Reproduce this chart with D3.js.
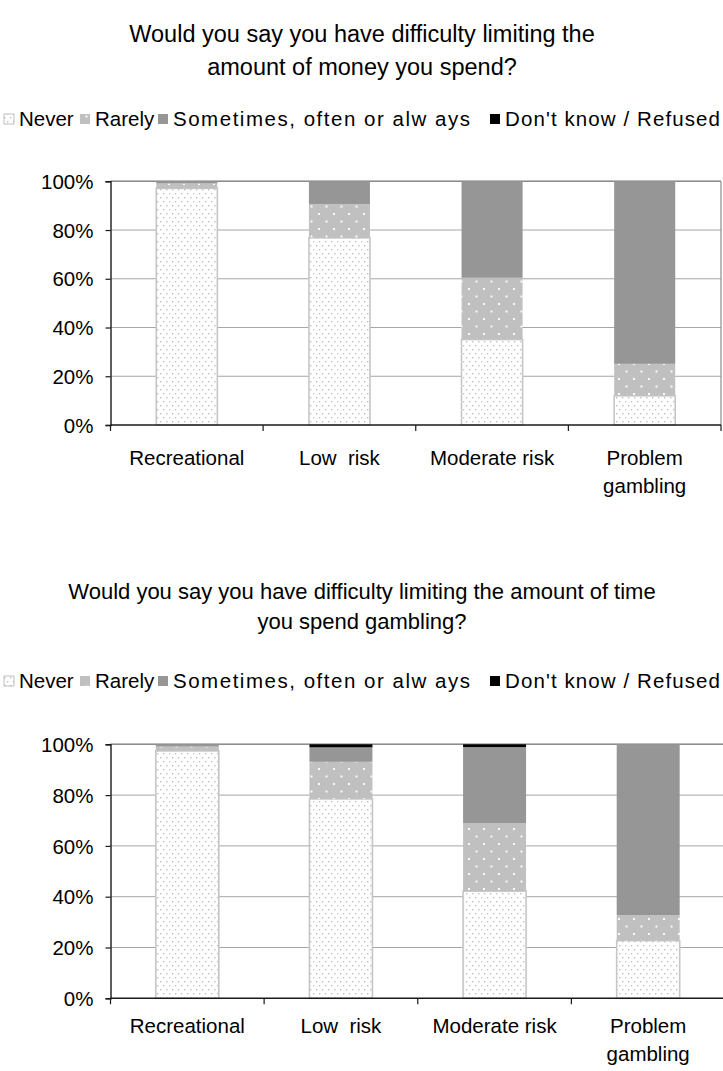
<!DOCTYPE html>
<html>
<head>
<meta charset="utf-8">
<script src="https://cdn.jsdelivr.net/npm/d3@7"></script>
<style>
  body { margin: 0; background: #fff; }
  svg text { font-family: "Liberation Sans", Arial, sans-serif; fill: #000; white-space: pre; }
</style>
</head>
<body>
<svg id="chart" width="723" height="1071"></svg>
<script>
// Gambler groups along the x axis
const categories = ["Recreational", "Low  risk", "Moderate risk", "Problem gambling"];
const seriesNames = ["Never", "Rarely", "Sometimes, often or alw ays", "Don't know / Refused"];
const yTicks = [0, 20, 40, 60, 80, 100];

// Difficulty limiting the amount of money spent (% of each group)
const moneyNever     = [97.1, 76.8, 35.1, 12.0];
const moneyRarely    = [2.0, 13.9, 25.3, 13.1];
const moneySometimes = [0.9, 9.3, 39.6, 74.9];
const moneyDontKnow  = [0, 0, 0, 0];

// Difficulty limiting the amount of time spent gambling (% of each group)
const timeNever     = [97.4, 78.5, 42.2, 22.7];
const timeRarely    = [1.7, 14.6, 26.8, 10.1];
const timeSometimes = [0.9, 5.7, 29.9, 67.2];
const timeDontKnow  = [0, 1.2, 1.1, 0];

const svg = d3.select("#chart");
const defs = svg.append("defs");

// Dotted fills
const pNever = defs.append("pattern").attr("id", "pNever")
  .attr("patternUnits", "userSpaceOnUse").attr("width", 6).attr("height", 8);
pNever.append("rect").attr("width", 6).attr("height", 8).attr("fill", "#fff");
pNever.append("rect").attr("x", 1).attr("y", 1).attr("width", 1.4).attr("height", 1.4).attr("fill", "#c0c0c0");
pNever.append("rect").attr("x", 4).attr("y", 5).attr("width", 1.4).attr("height", 1.4).attr("fill", "#c0c0c0");

const pRarely = defs.append("pattern").attr("id", "pRarely")
  .attr("patternUnits", "userSpaceOnUse").attr("width", 15).attr("height", 15);
pRarely.append("rect").attr("width", 15).attr("height", 15).attr("fill", "#c0c0c0");
pRarely.append("rect").attr("x", 3).attr("y", 3).attr("width", 2).attr("height", 2).attr("fill", "#fafafa");
pRarely.append("rect").attr("x", 10.5).attr("y", 10.5).attr("width", 2).attr("height", 2).attr("fill", "#fafafa");

const fills = ["url(#pNever)", "url(#pRarely)", "#969696", "#000000"];

// Legend layout: marker x positions and text widths (null = natural width)
const legendMarkX = [4, 80, 158, 490];
const legendTextW = [null, null, 297, 215];

function drawChart(cfg) {
  const g = svg.append("g");

  // Title
  g.append("text")
    .attr("text-anchor", "middle")
    .attr("font-size", cfg.titleSize)
    .selectAll("tspan").data(cfg.title).join("tspan")
    .attr("x", 362).attr("y", (d, i) => cfg.titleY + i * cfg.titleLead)
    .text(d => d);

  // Legend
  const leg = g.append("g");
  seriesNames.forEach((name, i) => {
    const lx = legendMarkX[i];
    leg.append("rect")
      .attr("x", lx).attr("y", cfg.legendY - 12).attr("width", 10).attr("height", 10)
      .attr("fill", fills[i])
      .attr("stroke", i === 0 ? "#b0b0b0" : "none").attr("stroke-width", 0.8);
    const t = leg.append("text")
      .attr("x", lx + 15).attr("y", cfg.legendY)
      .attr("font-size", 20.5)
      .text(name);
    if (legendTextW[i]) t.attr("textLength", legendTextW[i]).attr("lengthAdjust", "spacing");
  });

  const x = d3.scaleBand().domain(categories)
    .range([cfg.left, cfg.right]).paddingInner(cfg.pad).paddingOuter(cfg.pad / 2);
  const y = d3.scaleLinear().domain([0, 100]).range([cfg.bottom, cfg.top]);

  // Horizontal gridlines
  g.append("g").selectAll("line").data(yTicks.filter(v => v > 0)).join("line")
    .attr("x1", cfg.left).attr("x2", cfg.right)
    .attr("y1", d => y(d)).attr("y2", d => y(d))
    .attr("stroke", "#a6a6a6").attr("stroke-width", 1);

  // Top and right border of the plot area
  g.append("line")
    .attr("x1", cfg.right).attr("x2", cfg.right)
    .attr("y1", cfg.top).attr("y2", cfg.bottom)
    .attr("stroke", "#8c8c8c").attr("stroke-width", 1.2);
  g.append("line")
    .attr("x1", cfg.left).attr("x2", cfg.right)
    .attr("y1", cfg.top).attr("y2", cfg.top)
    .attr("stroke", "#8c8c8c").attr("stroke-width", 1.5);

  // Stacked bars
  const rows = categories.map((c, i) => {
    const o = { cat: c };
    seriesNames.forEach((s, k) => { o[s] = cfg.values[k][i]; });
    return o;
  });
  const stacked = d3.stack().keys(seriesNames)(rows);
  stacked.forEach((layer, k) => {
    g.append("g").selectAll("rect").data(layer.filter(d => d[1] - d[0] > 0)).join("rect")
      .attr("x", d => x(d.data.cat))
      .attr("width", x.bandwidth())
      .attr("y", d => y(d[1]))
      .attr("height", d => y(d[0]) - y(d[1]))
      .attr("fill", fills[k])
      .attr("stroke", k === 0 ? "#c6c6c6" : "none")
      .attr("stroke-width", k === 0 ? 1.6 : 0);
  });

  // Y axis
  const yAxis = g.append("g").attr("transform", `translate(${cfg.left},0)`)
    .call(d3.axisLeft(y).tickValues(yTicks).tickFormat(d => d + "%").tickSize(5).tickPadding(12));
  yAxis.select(".domain").attr("stroke", "#1a1a1a").attr("stroke-width", 1.4);
  yAxis.selectAll(".tick line").attr("stroke", "#1a1a1a").attr("stroke-width", 1.2);
  yAxis.selectAll(".tick text").attr("font-size", 20.5).attr("dy", "0.35em")
    .attr("font-family", "Liberation Sans, Arial, sans-serif").attr("fill", "#000");

  // X axis: ticks at category boundaries
  const step = x.step();
  const bounds = d3.range(categories.length + 1).map(i => cfg.left + i * step);
  g.append("line")
    .attr("x1", cfg.left).attr("x2", cfg.right)
    .attr("y1", cfg.bottom).attr("y2", cfg.bottom)
    .attr("stroke", "#1a1a1a").attr("stroke-width", 1.4);
  g.append("g").selectAll("line").data(bounds).join("line")
    .attr("x1", d => d).attr("x2", d => d)
    .attr("y1", cfg.bottom).attr("y2", cfg.bottom + 6)
    .attr("stroke", "#1a1a1a").attr("stroke-width", 1.2);

  // Category labels (last one wraps onto two lines)
  g.append("g").selectAll("text").data(categories).join("text")
    .attr("text-anchor", "middle").attr("font-size", 20.5)
    .each(function (d) {
      const cx = x(d) + x.bandwidth() / 2;
      const lines = d === "Problem gambling" ? ["Problem", "gambling"] : [d];
      d3.select(this).selectAll("tspan").data(lines).join("tspan")
        .attr("x", cx).attr("y", (l, i) => cfg.bottom + cfg.labelOffset + i * 28)
        .text(l => l);
    });
}

drawChart({
  title: ["Would you say you have difficulty limiting the", "amount of money you spend?"],
  titleSize: 23.5, titleY: 41.5, titleLead: 33.5,
  legendY: 126,
  left: 110.5, right: 721, top: 181.3, bottom: 425, pad: 0.6, labelOffset: 39.5,
  values: [moneyNever, moneyRarely, moneySometimes, moneyDontKnow]
});

drawChart({
  title: ["Would you say you have difficulty limiting the amount of time", "you spend gambling?"],
  titleSize: 22, titleY: 599, titleLead: 30,
  legendY: 688,
  left: 110.5, right: 725, top: 744.3, bottom: 998.3, pad: 0.59, labelOffset: 34.5,
  values: [timeNever, timeRarely, timeSometimes, timeDontKnow]
});
</script>
</body>
</html>
